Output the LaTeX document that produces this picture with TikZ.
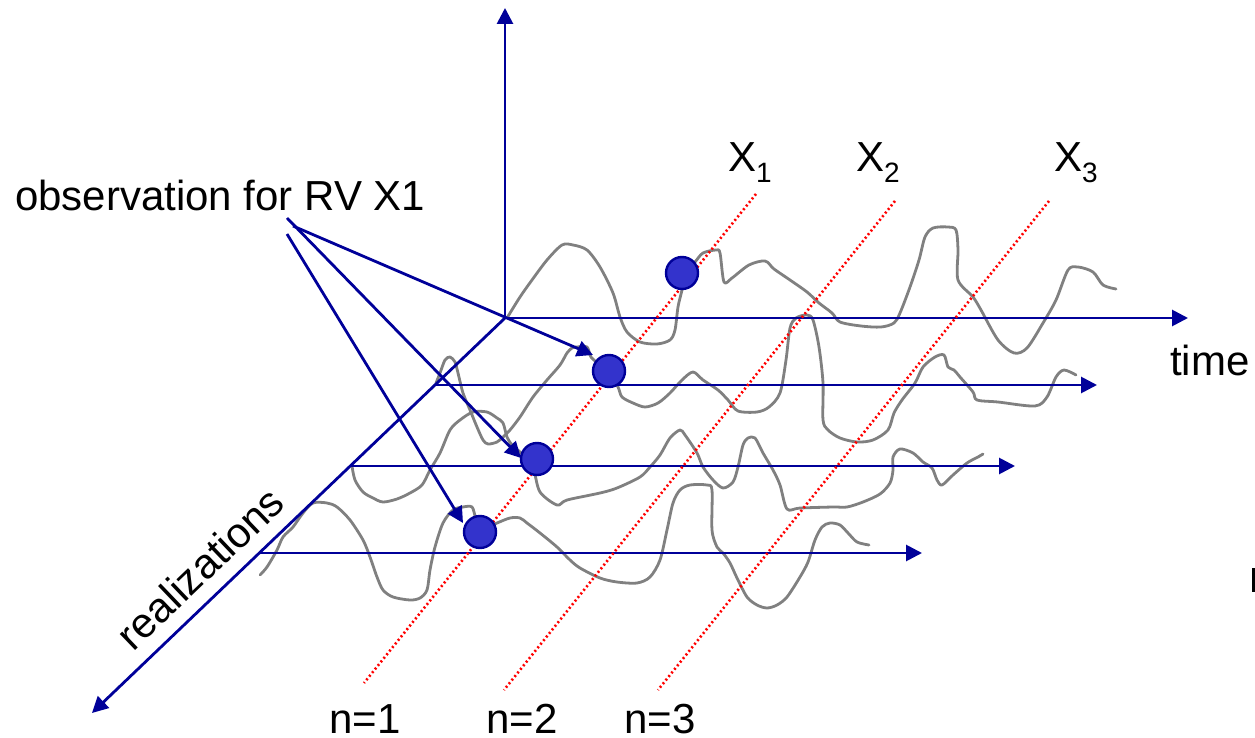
\documentclass[tikz,border=0pt]{standalone}
\usepackage{fontspec}
\setmainfont{Liberation Sans}
\usetikzlibrary{arrows.meta}
\definecolor{axblue}{RGB}{0,0,153}
\definecolor{dotfill}{RGB}{51,51,204}
\definecolor{curvegray}{RGB}{128,128,128}
\begin{document}
\begin{tikzpicture}[x=1pt,y=-1pt,
  axis/.style={draw=axblue, line width=2.8pt},
  arr/.style={-{Triangle[length=16pt,width=16pt]}},
  wave/.style={draw=curvegray, line width=2.8pt, line cap=round, line join=round},
  rvline/.style={draw=red, line width=2.6pt, dash pattern=on 2pt off 2.6pt},
  obs/.style={circle, draw=axblue, fill=dotfill, line width=2.4pt, minimum size=32pt, inner sep=0pt},
  lbl/.style={font=\fontsize{42}{48}\selectfont, inner sep=0pt, text=black}
]
\useasboundingbox (0,0) rectangle (1255,738);

% named points
\coordinate (O) at (505,318);
\coordinate (ytip) at (505,8);
\coordinate (ttip) at (1188,318);
\coordinate (rtip) at (92,713);
\coordinate (r2s) at (434,385);
\coordinate (r2e) at (1097,385);
\coordinate (r3s) at (351,466);
\coordinate (r3e) at (1015,466);
\coordinate (r4s) at (260,553);
\coordinate (r4e) at (922,553);
\coordinate (x1a) at (756,194);
\coordinate (x1b) at (364,683);
\coordinate (x2a) at (895,201);
\coordinate (x2b) at (504,690);
\coordinate (x3a) at (1049,201);
\coordinate (x3b) at (658,690);
\coordinate (sA) at (293,226);
\coordinate (sB) at (287,218);
\coordinate (sC) at (287,234);
\coordinate (tA) at (593,355);
\coordinate (tB) at (521,458);
\coordinate (tC) at (463,523);

% realizations (gray curves)
\draw[wave] plot[smooth, tension=0.5] coordinates {(507,318) (520,297) (532,280) (547,260) (562,245) (573,245) (587,250) (600,267) (613,293) (620,317) (627,332) (640,342) (657,344) (670,340) (675,330) (678,307) (682,290) (686,272) (695,262) (703,253) (716,250) (720,253) (724,282) (732,278) (749,265) (765,261) (774,269) (790,280) (807,292) (819,303) (832,313) (840,322) (861,326) (881,327) (894,323) (900,313) (910,287) (919,260) (925,237) (933,228) (948,227) (956,230) (958,250) (958,280) (973,297) (981,310) (998,340) (1014,353) (1027,348) (1043,323) (1056,300) (1068,270) (1078,267) (1093,272) (1103,285) (1116,289)};
\draw[wave] plot[smooth, tension=0.5] coordinates {(436,383) (440,373) (445,360) (450,357) (455,362) (458,373) (463,393) (470,410) (477,427) (483,440) (488,444) (497,442) (503,437) (510,430) (520,417) (533,397) (547,380) (560,365) (567,353) (572,348) (577,347) (587,347) (591,357) (600,365) (609,372) (618,387) (622,397) (633,403) (645,407) (658,403) (670,393) (682,380) (693,372) (703,380) (718,390) (728,400) (738,411) (757,412) (769,407) (780,393) (786,360) (790,328) (796,318) (807,315) (813,320) (819,347) (823,383) (823,420) (828,430) (840,438) (857,442) (873,440) (888,430) (894,413) (902,400) (915,383) (923,367) (935,357) (944,355) (948,367) (954,370) (960,377) (973,392) (977,400) (998,402) (1035,406) (1047,397) (1056,377) (1064,370) (1076,375)};
\draw[wave] plot[smooth, tension=0.5] coordinates {(352,466) (355,480) (363,492) (373,498) (383,502) (397,499) (410,493) (422,485) (430,470) (440,453) (450,430) (460,420) (473,412) (487,412) (497,418) (503,423) (507,437) (512,445) (520,452) (530,462) (534,470) (540,492) (557,505) (567,500) (600,493) (617,488) (640,477) (650,467) (660,455) (670,438) (680,430) (685,435) (697,453) (703,467) (713,480) (723,488) (733,482) (738,467) (743,445) (748,438) (755,438) (763,453) (773,470) (780,485) (787,509) (800,508) (833,507) (847,507) (863,502) (880,494) (890,483) (893,470) (893,457) (900,449) (913,453) (923,462) (932,468) (937,480) (942,485) (953,475) (967,463) (978,457) (983,454)};
\draw[wave] plot[smooth, tension=0.5] coordinates {(260,575) (267,567) (277,550) (283,537) (293,527) (303,513) (313,503) (327,503) (337,507) (350,520) (363,540) (370,557) (377,577) (383,590) (393,597) (410,600) (420,598) (427,590) (430,570) (435,547) (443,523) (453,510) (463,507) (472,507) (476,518) (485,528) (497,523) (510,518) (520,518) (527,523) (540,533) (557,547) (570,560) (580,568) (600,578) (617,582) (637,583) (650,577) (660,560) (667,530) (673,503) (680,490) (690,485) (707,485) (712,490) (712,530) (717,547) (723,553) (730,563) (737,578) (747,597) (757,605) (767,608) (777,605) (787,597) (800,577) (808,562) (815,540) (822,527) (830,523) (840,525) (848,533) (857,542) (869,545)};

% axes
\draw[axis, arr] (O) -- (ytip);
\draw[axis, arr] (O) -- (ttip);
\draw[axis, arr] (O) -- (rtip);
\draw[axis, arr] (r2s) -- (r2e);
\draw[axis, arr] (r3s) -- (r3e);
\draw[axis, arr] (r4s) -- (r4e);

% random variable lines
\draw[rvline] (x1a) -- (x1b);
\draw[rvline] (x2a) -- (x2b);
\draw[rvline] (x3a) -- (x3b);

% observations
\node[obs] (c1) at (682,273) {};
\node[obs] (c2) at (609,371) {};
\node[obs] (c3) at (537,459) {};
\node[obs] (c4) at (480,532) {};

% pointer arrows
\draw[axis, arr] (sA) -- (tA);
\draw[axis, arr] (sB) -- (tB);
\draw[axis, arr] (sC) -- (tC);

% labels
\node[lbl, anchor=base west] (obslbl) at (15,211) {observation for RV X1};
\node[lbl, anchor=base west] (timelbl) at (1170,375) {time};
\node[lbl, rotate=43.7] (reallbl) at (200,568) {realizations};
\node[lbl, anchor=base west] (X1) at (728,172) {X\raisebox{-11pt}{\fontsize{28}{30}\selectfont 1}};
\node[lbl, anchor=base west] (X2) at (856,172) {X\raisebox{-11pt}{\fontsize{28}{30}\selectfont 2}};
\node[lbl, anchor=base west] (X3) at (1054,172) {X\raisebox{-11pt}{\fontsize{28}{30}\selectfont 3}};
\node[lbl, anchor=base west] (n1) at (329,733) {n=1};
\node[lbl, anchor=base west] (n2) at (486,733) {n=2};
\node[lbl, anchor=base west] (n3) at (624,733) {n=3};

% clipped character at the right edge
\fill[black] (1252,568) rectangle (1255,592);
\end{tikzpicture}
\end{document}
